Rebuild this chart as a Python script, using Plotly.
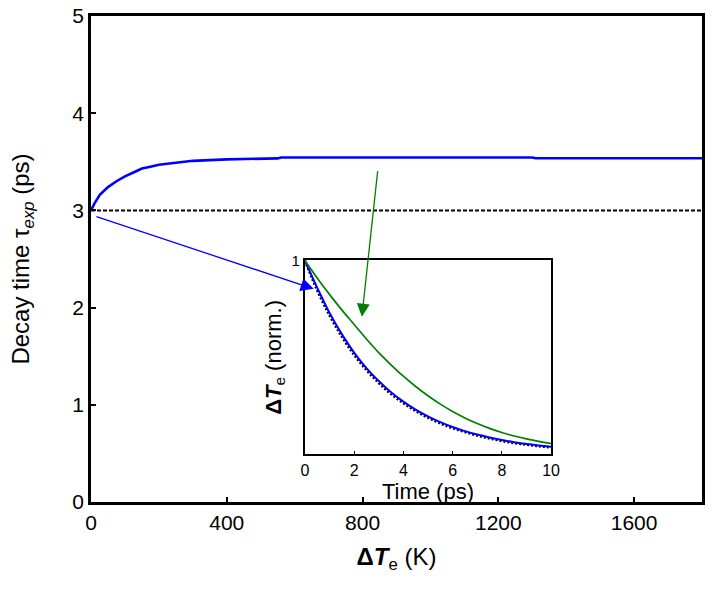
import plotly.graph_objects as go

# Main panel: decay time vs electron temperature rise
dTe_K = [0, 10, 26, 50, 75, 100, 125, 150, 175, 200, 250, 300, 400, 500, 550, 560, 1300, 1310, 1800]
tau_ps = [3.00, 3.07, 3.16, 3.24, 3.30, 3.35, 3.39, 3.43, 3.45, 3.47, 3.49, 3.51, 3.525, 3.53, 3.535, 3.545, 3.545, 3.536, 3.536]
ref_x = [0, 1800]
ref_tau = [3.0, 3.0]

# Inset: normalized decay traces
t_ps = [0, 0.5, 1, 1.5, 2, 2.5, 3, 3.5, 4, 4.5, 5, 5.5, 6, 6.5, 7, 7.5, 8, 8.5, 9, 9.5, 10]
ref_trace = [1.0, 0.846, 0.717, 0.607, 0.513, 0.435, 0.368, 0.311, 0.264, 0.223, 0.189,
             0.160, 0.135, 0.115, 0.097, 0.082, 0.069, 0.058, 0.050, 0.042, 0.036]
low_trace = [1.0, 0.86, 0.73, 0.62, 0.525, 0.445, 0.378, 0.32, 0.272, 0.231, 0.196,
             0.166, 0.141, 0.12, 0.102, 0.087, 0.074, 0.063, 0.054, 0.046, 0.039]
high_trace = [1.0, 0.91, 0.825, 0.745, 0.67, 0.595, 0.525, 0.462, 0.403, 0.35, 0.302,
              0.259, 0.221, 0.188, 0.159, 0.134, 0.113, 0.095, 0.08, 0.067, 0.056]

x_ticks = [0, 400, 800, 1200, 1600]
y_ticks = [0, 1, 2, 3, 4, 5]
inset_x_ticks = [0, 2, 4, 6, 8, 10]

FONT = "Liberation Sans, Arial, sans-serif"

fig = go.Figure()
fig.add_trace(go.Scatter(x=ref_x, y=ref_tau, mode="lines",
                         line=dict(color="black", width=2, dash="4px,2px"),
                         xaxis="x", yaxis="y"))
fig.add_trace(go.Scatter(x=dTe_K, y=tau_ps, mode="lines",
                         line=dict(color="#0000ff", width=2.6),
                         xaxis="x", yaxis="y"))

fig.add_trace(go.Scatter(x=t_ps, y=ref_trace, mode="lines", line_shape="spline",
                         line=dict(color="black", width=2.5, dash="2px,2px"),
                         xaxis="x2", yaxis="y2"))
fig.add_trace(go.Scatter(x=t_ps, y=low_trace, mode="lines", line_shape="spline",
                         line=dict(color="#0000ff", width=2),
                         xaxis="x2", yaxis="y2"))
fig.add_trace(go.Scatter(x=t_ps, y=high_trace, mode="lines", line_shape="spline",
                         line=dict(color="#008000", width=1.7),
                         xaxis="x2", yaxis="y2"))

axis_common = dict(showline=True, linecolor="black", mirror=True, showgrid=False,
                   zeroline=False, ticks="inside", tickcolor="black")

fig.update_layout(
    width=715, height=589,
    margin=dict(l=91, r=4, t=13, b=87),
    plot_bgcolor="white", paper_bgcolor="white",
    showlegend=False,
    font=dict(family=FONT, color="black"),
    xaxis=dict(**axis_common, range=[0, 1800], tickvals=x_ticks, linewidth=2.5,
               ticklen=5, tickwidth=1.5, tickfont=dict(size=21),
               title=dict(text="<b>Δ<i>T</i></b><sub>e</sub> (K)", font=dict(size=24), standoff=16),
               domain=[0, 1]),
    yaxis=dict(**axis_common, range=[0, 5], tickvals=y_ticks, linewidth=2.5,
               ticklen=5, tickwidth=1.5, tickfont=dict(size=21),
               title=dict(text="Decay time τ<sub><i>exp</i></sub> (ps)", font=dict(size=24), standoff=36),
               domain=[0, 1]),
    xaxis2=dict(**axis_common, range=[0, 10], tickvals=inset_x_ticks, linewidth=2,
                ticklen=3, tickwidth=1, tickfont=dict(size=16),
                title=dict(text="Time (ps)", font=dict(size=22), standoff=1),
                domain=[0.35, 0.753], anchor="y2"),
    yaxis2=dict(**axis_common, range=[0, 1], tickvals=[1], ticktext=["1"], linewidth=2,
                ticklen=0, tickfont=dict(size=15),
                title=dict(text="<b>Δ<i>T</i></b><sub>e</sub> (norm.)", font=dict(size=22), standoff=4),
                domain=[0.098, 0.497], anchor="x2"),
)

fig.add_annotation(x=656, y=2.193, ax=11.6, ay=2.94, xref="x", yref="y", axref="x", ayref="y",
                   showarrow=True, arrowhead=2, arrowsize=2.0, arrowwidth=1.3,
                   arrowcolor="#0000ff", text="")
fig.add_annotation(x=798, y=1.907, ax=845, ay=3.42, xref="x", yref="y", axref="x", ayref="y",
                   showarrow=True, arrowhead=2, arrowsize=2.0, arrowwidth=1.3,
                   arrowcolor="#008000", text="")

fig.write_html("out.html")
